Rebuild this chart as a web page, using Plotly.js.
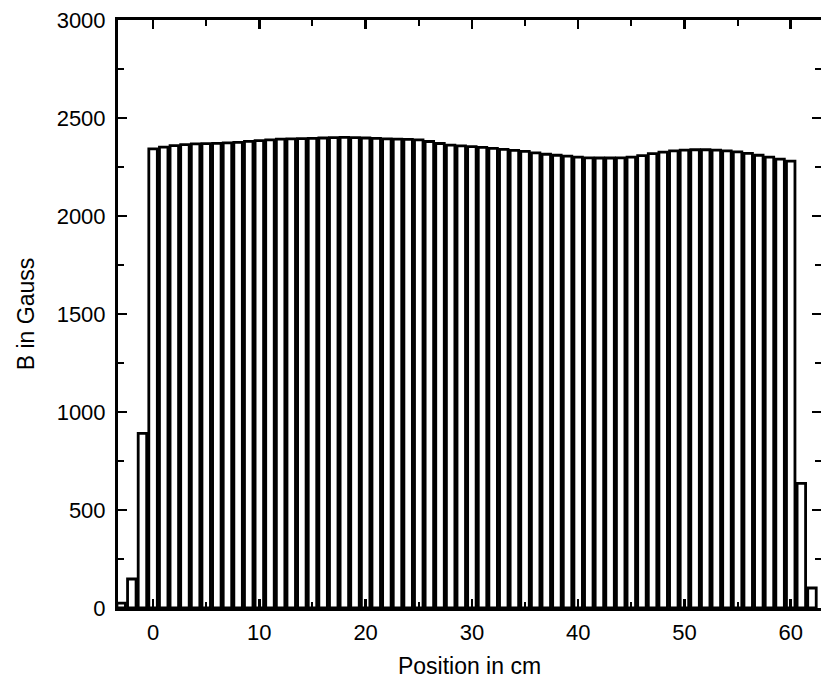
<!DOCTYPE html>
<html>
<head>
<meta charset="utf-8">
<script src="https://cdn.plot.ly/plotly-3.0.1.min.js"></script>
<style>html,body{margin:0;padding:0;background:#fff;}</style>
</head>
<body>
<div id="chart" style="width:821px;height:690px;"></div>
<script>
// Position in cm
const positions = [-3,-2,-1,0,1,2,3,4,5,6,7,8,9,10,11,12,13,14,15,16,17,18,19,20,
  21,22,23,24,25,26,27,28,29,30,31,32,33,34,35,36,37,38,39,40,
  41,42,43,44,45,46,47,48,49,50,51,52,53,54,55,56,57,58,59,60,61,62];
// B in Gauss
const fieldB = [25,148,891,
  2342,2351,2359,2364,2368,2369,2371,2373,2376,2381,
  2385,2388,2392,2393,2395,2396,2398,2400,2401,2400,
  2398,2396,2393,2392,2391,2388,2380,2370,2362,2358,
  2354,2350,2345,2340,2335,2330,2322,2315,2310,2305,
  2300,2297,2296,2296,2297,2300,2308,2318,2326,2332,
  2336,2338,2338,2336,2332,2327,2320,2310,2300,2290,
  2280,636,102];
const xTickVals = [0,10,20,30,40,50,60];
const yTickVals = [0,500,1000,1500,2000,2500,3000];

const trace = {
  type: 'bar',
  x: positions,
  y: fieldB,
  width: 0.8,
  marker: {color: '#ffffff', line: {color: '#000000', width: 2.8}},
  hoverinfo: 'x+y'
};

const fam = 'Liberation Sans, Arial, sans-serif';
const fnt = {family: fam, size: 22, color: '#000'};

const layout = {
  width: 821, height: 690,
  margin: {l: 118, r: 0, t: 20, b: 82},
  paper_bgcolor: '#fff', plot_bgcolor: '#fff',
  showlegend: false,
  bargap: 0,
  xaxis: {
    range: [-3.3, 62.85],
    tickvals: xTickVals,
    ticks: 'inside', ticklen: 9, tickwidth: 2.5, tickcolor: '#000',
    minor: {dtick: 5, tick0: 0, ticks: 'inside', ticklen: 6, tickwidth: 2, tickcolor: '#000'},
    showline: true, linecolor: '#000', linewidth: 3, mirror: 'ticks',
    showgrid: false, zeroline: false,
    tickfont: fnt,
    ticklabelstandoff: 3,
    title: {text: 'Position in cm', font: {family: fam, size: 23, color: '#000'}, standoff: 14},
    automargin: false
  },
  yaxis: {
    range: [0, 3000],
    tickvals: yTickVals,
    ticks: 'inside', ticklen: 9, tickwidth: 2.5, tickcolor: '#000',
    minor: {dtick: 250, tick0: 0, ticks: 'inside', ticklen: 6, tickwidth: 2, tickcolor: '#000'},
    showline: true, linecolor: '#000', linewidth: 3, mirror: 'ticks',
    showgrid: false, zeroline: false,
    tickfont: fnt,
    ticklabelstandoff: 5,
    title: {text: 'B in Gauss', font: {family: fam, size: 23, color: '#000'}, standoff: 16},
    automargin: false
  }
};

Plotly.newPlot('chart', [trace], layout, {displayModeBar: false, staticPlot: true});
</script>
</body>
</html>
